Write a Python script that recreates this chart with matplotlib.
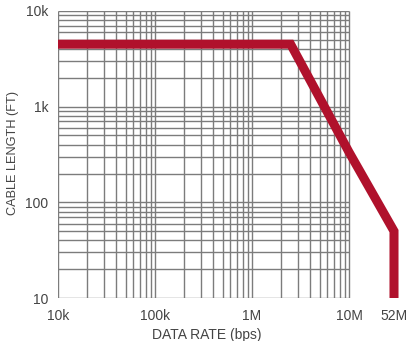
import numpy as np
import matplotlib
matplotlib.use("Agg")
import matplotlib.pyplot as plt

# Maximum cable length versus data rate
rate_bps = [1e4, 2.5e6, 1e7, 5.2e7, 5.2e7]
length_ft = [4500, 4500, 335, 50, 10]

x_ticks = [1e4, 1e5, 1e6, 1e7, 5.2e7]
x_tick_labels = ["10k", "100k", "1M", "10M", "52M"]
y_ticks = [10, 100, 1000, 10000]
y_tick_labels = ["10", "100", "1k", "10k"]

TEXT = "#444444"
GRID = "#7c7c7c"
RED = "#b0112c"

plt.rcParams["font.family"] = ["Liberation Sans Narrow", "Liberation Sans", "DejaVu Sans"]

# log scale up to 10M, compressed above it so the 52M end fits
K = 0.648
def fwd(x):
    lx = np.log10(np.maximum(x, 1e-300))
    return np.where(lx <= 7, lx, 7 + K * (lx - 7))

def inv(u):
    u = np.asarray(u, dtype=float)
    return np.where(u <= 7, 10.0 ** u, 10.0 ** (7 + (u - 7) / K))

fig = plt.figure(figsize=(4.09, 3.41), dpi=100)
ax = fig.add_axes([58 / 409, 1 - 298 / 341, (394 - 58) / 409, (298 - 11) / 341])
ax.set_xscale("function", functions=(fwd, inv))
ax.set_yscale("log")
ax.set_xlim(1e4, 5.2e7)
ax.set_ylim(10, 1e4)

for s in ax.spines.values():
    s.set_visible(False)

# grid over 10k..10M and 10..10k
decades_x = [1e4, 1e5, 1e6]
xs = [d * m for d in decades_x for m in range(1, 10)] + [1e7]
decades_y = [10, 100, 1000]
ys = [d * m for d in decades_y for m in range(1, 10)] + [1e4]
ax.vlines(xs, 10, 1e4, colors=GRID, linewidth=1.0, zorder=1)
ax.hlines(ys, 1e4, 1e7, colors=GRID, linewidth=1.0, zorder=1)

ax.plot(rate_bps, length_ft, color=RED, linewidth=6.5,
        solid_joinstyle="miter", solid_capstyle="butt", clip_on=False, zorder=3)

ax.set_xticks(x_ticks)
ax.set_xticklabels(x_tick_labels)
ax.set_yticks(y_ticks)
ax.set_yticklabels(y_tick_labels)
ax.minorticks_off()
ax.tick_params(axis="both", length=0, labelsize=10, colors=TEXT)
ax.tick_params(axis="x", pad=8)
ax.tick_params(axis="y", pad=7)

ax.set_xlabel("DATA RATE (bps)", fontsize=10, color=TEXT)
ax.xaxis.set_label_coords((207 - 58) / (394 - 58), -0.105)
ax.set_ylabel("CABLE LENGTH (FT)", fontsize=9.2, color=TEXT)
ax.yaxis.set_label_coords(-(58 - 19) / (394 - 58), (298 - 153) / (298 - 11))

fig.savefig("out.png", dpi=100)
